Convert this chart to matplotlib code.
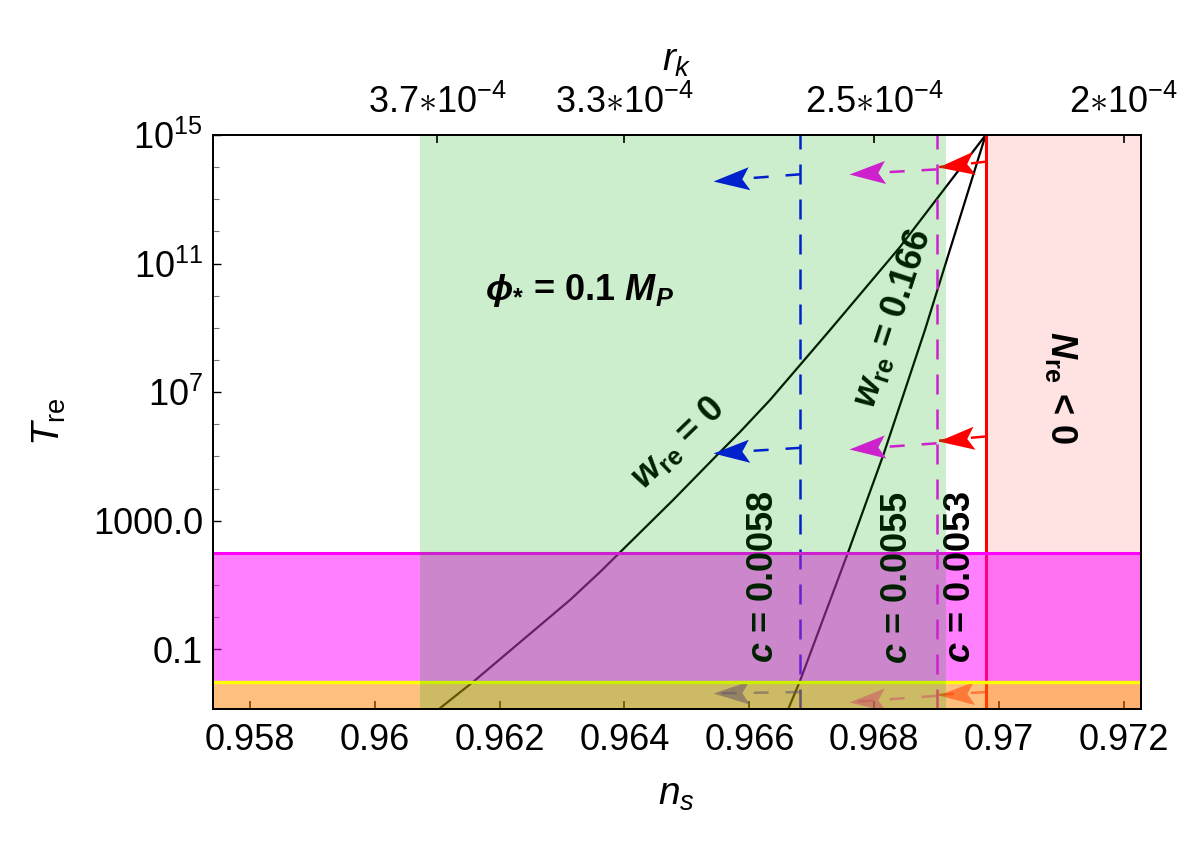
import numpy as np
import matplotlib
matplotlib.use('Agg')
import matplotlib.pyplot as plt
from matplotlib.path import Path
from matplotlib.markers import MarkerStyle
from matplotlib.transforms import Affine2D

plt.rcParams['font.family'] = ['Liberation Sans', 'DejaVu Sans']
plt.rcParams['mathtext.fontset'] = 'custom'
plt.rcParams['mathtext.rm'] = 'Liberation Sans'
plt.rcParams['mathtext.it'] = 'Liberation Sans:italic'
plt.rcParams['mathtext.bf'] = 'Liberation Sans:bold'
plt.rcParams['mathtext.bfit'] = 'Liberation Sans:italic:bold'
plt.rcParams['lines.scale_dashes'] = False

# ---------------- data ----------------
ns_w0 = [0.969787, 0.968414, 0.967293, 0.966331, 0.965851, 0.965482,
         0.964777, 0.963608, 0.963127, 0.961573, 0.961028]
T_w0 = [1e15, 3.28e11, 8.6e8, 5.7e6, 5.8e5, 1.1e5, 4.4e3, 25.5, 3.44,
        9.7e-3, 1.4e-3]

ns_w166 = [0.969787, 0.968814, 0.968441, 0.968146, 0.967586, 0.966812,
           0.966624]
T_w166 = [1e15, 8.6e8, 5.7e6, 1.1e5, 109.0, 1.04e-2, 1.4e-3]

c_values = ['0.0058', '0.0055', '0.0053']
ns_c = [0.96682, 0.96900, 0.96979]
c_colors = ['#0000ff', '#ff00ff', '#ff0000']
c_styles = ['dashed', 'dashed', 'solid']

arrow_tip_ns = [0.965418, 0.967605, 0.969031]
arrow_T_start = [[6.0e13, 1.86e5, 4.7e-3],
                 [8.5e13, 2.57e5, 3.6e-3],
                 [1.48e14, 4.2e5, 4.7e-3]]
arrow_T_tip = [[3.7e13, 1.26e5, 4.3e-3],
               [6.0e13, 1.66e5, 2.3e-3],
               [1.0e14, 3.1e5, 3.9e-3]]
arrow_row_alpha = [1.0, 1.0, 0.55]

green_ns = [0.96073, 0.96915]
T_ew = 100.0
T_bbn = 0.01

xlim = [0.957402, 0.972271]
ylim = [10 ** -2.854, 1e15]

ns_ticks = [0.958, 0.960, 0.962, 0.964, 0.966, 0.968, 0.970, 0.972]
ns_ticklabels = ['0.958', '0.96', '0.962', '0.964', '0.966', '0.968', '0.97', '0.972']
T_ticks = [1e15, 1e11, 1e7, 1e3, 1e-1]
T_ticklabels = [r'$10^{15}$', r'$10^{11}$', r'$10^{7}$', '1000.0', '0.1']
rk_tick_ns = [0.961, 0.964, 0.968, 0.972]
rk_ticklabels = [r'$3.7{\ast}10^{-4}$', r'$3.3{\ast}10^{-4}$',
                 r'$2.5{\ast}10^{-4}$', r'$2{\ast}10^{-4}$']

c_label_pos = [(0.966235, 17.9), (0.968382, 16.6), (0.969391, 17.8)]

# ---------------- figure ----------------
fig = plt.figure(figsize=(12, 8.44), dpi=100)
ax = fig.add_axes([0.17725, 0.15995, 0.77333, 0.68010])
ax.set_yscale('log')
ax.set_xlim(xlim)
ax.set_ylim(ylim)

# forbidden region N_re < 0
ax.axvspan(ns_c[2], xlim[1], color='#ffe3e3', lw=0, zorder=0.5)

# curves
ax.plot(ns_w0, T_w0, color='black', lw=1.6, zorder=2)
ax.plot(ns_w166, T_w166, color='black', lw=1.6, zorder=2)

# c lines
for x, col, st in zip(ns_c, c_colors, c_styles):
    ln, = ax.plot([x, x], ylim, color=col, lw=1.8 if st == 'dashed' else 2.2,
                  zorder=2)
    if st == 'dashed':
        ln.set_dashes([14.4, 10.8])

fig.canvas.draw()

# arrows
head = Path([(0, 0), (-1, 0.32), (-0.8, 0), (-1, -0.32), (0, 0)],
            [Path.MOVETO, Path.LINETO, Path.LINETO, Path.LINETO, Path.CLOSEPOLY])
for i in range(3):
    for j in range(3):
        xs, ys = ns_c[i], arrow_T_start[i][j]
        xt, yt = arrow_tip_ns[i], arrow_T_tip[i][j]
        p0 = ax.transData.transform((xs, ys))
        p1 = ax.transData.transform((xt, yt))
        ang = np.degrees(np.arctan2(p1[1] - p0[1], p1[0] - p0[0]))
        ln, = ax.plot([xs, xt], [ys, yt], color=c_colors[i], lw=1.8,
                      alpha=arrow_row_alpha[j], zorder=2.5)
        ln.set_dashes([10.8, 12.2])
        ln.set_dash_capstyle('butt')
        m = MarkerStyle(head, transform=Affine2D().rotate_deg(ang))
        ax.plot([xt], [yt], marker=m, ms=52, color=c_colors[i], mew=0,
                alpha=arrow_row_alpha[j], linestyle='none', zorder=2.6)

# reheating bands
ax.axhspan(T_bbn, T_ew, color=(1, 0, 1), alpha=0.5, lw=0, zorder=3)
ax.axhline(T_ew, color=(1, 0, 1), lw=2.2, zorder=3.1)
ax.axhspan(ylim[0], T_bbn, color=(1, 0.5, 0), alpha=0.5, lw=0, zorder=3)
ax.axhline(T_bbn, color=(1, 1, 0), lw=2.4, zorder=3.1)

# labels below the green overlay
for (x, y), cv in zip(c_label_pos, c_values):
    ax.text(x, y, r'$\mathbfit{c}$ = ' + cv, rotation=90, fontsize=26,
            fontweight='bold', ha='center', va='center',
            rotation_mode='anchor', zorder=4)
ax.text(0.964857, 2.6e5, r'$\mathbfit{w}_{\mathbf{re}}$ = 0', rotation=44,
        fontsize=26, fontweight='bold', ha='center', va='center',
        rotation_mode='anchor', zorder=4)
ax.text(0.968302, 2.0e9, r'$\mathbfit{w}_{\mathbf{re}}$ = 0.166', rotation=72,
        fontsize=26, fontweight='bold', ha='center', va='center',
        rotation_mode='anchor', zorder=4)

# green allowed region overlay
ax.axvspan(green_ns[0], green_ns[1], color=(0, 0.667, 0), alpha=0.2, lw=0,
           zorder=5)

ax.text(0.963287, 1.5e10, r'$\mathbfit{\phi}_{\mathbf{*}}$ = 0.1 $\mathbfit{M}_{\mathbfit{P}}$',
        fontsize=26, fontweight='bold', ha='center', va='center', zorder=6)
ax.text(0.970994, 1.35e7, r'$\mathbfit{N}_{\mathbf{re}}$ < 0', rotation=-90,
        fontsize=26, fontweight='bold', ha='center', va='center',
        rotation_mode='anchor', zorder=6)

# axes styling
ax.set_xticks(ns_ticks)
ax.set_xticklabels(ns_ticklabels)
ax.set_yticks(T_ticks)
ax.set_yticklabels(T_ticklabels)
ax.set_yticks([10.0 ** k for k in range(-2, 16) if 10.0 ** k not in T_ticks], minor=True)
ax.yaxis.set_minor_formatter(matplotlib.ticker.NullFormatter())
ax.xaxis.set_minor_locator(matplotlib.ticker.NullLocator())
ax.tick_params(axis='x', which='major', direction='in', length=6, width=1.2,
               labelsize=26, pad=10, top=False)
ax.tick_params(axis='y', which='major', direction='in', length=6, width=1.0,
               labelsize=26, pad=7, right=False)
ax.tick_params(axis='y', which='minor', direction='in', length=4, width=0.8,
               color='#777777', right=False)
for s in ax.spines.values():
    s.set_linewidth(1.3)
    s.set_zorder(10)

ax.set_xlabel(r'$n_s$', fontsize=28, labelpad=14)
ax.set_ylabel(r'$T_{\mathrm{re}}$', fontsize=28, labelpad=18)

ax2 = ax.twiny()
ax2.set_xlim(xlim)
ax2.set_xticks(rk_tick_ns)
ax2.set_xticklabels(rk_ticklabels)
ax2.xaxis.set_minor_locator(matplotlib.ticker.NullLocator())
ax2.tick_params(axis='x', direction='in', length=6, width=1.2, labelsize=26,
                pad=10)
ax2.set_xlabel(r'$r_k$', fontsize=28, labelpad=10)
for s in ax2.spines.values():
    s.set_linewidth(1.3)

fig.savefig('out.png', dpi=100)
